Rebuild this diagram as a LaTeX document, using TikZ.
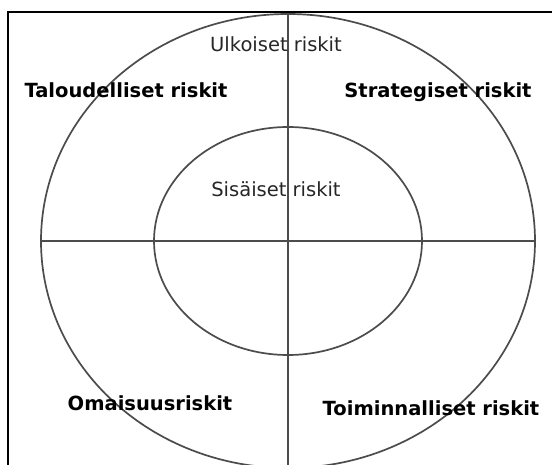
\documentclass[tikz,border=0pt]{standalone}
\usepackage{fontspec}
\setmainfont{DejaVu Sans}
\begin{document}
\begin{tikzpicture}[x=1pt,y=-1pt,
  ring/.style={draw=black!70,line width=1.7pt},
  axis/.style={draw=black!70,line width=1.5pt},
  frame/.style={draw=black,line width=2.6pt},
  plain/.style={font=\fontsize{19.5}{22}\selectfont,inner sep=0pt,anchor=base,text=black!85},
  heavy/.style={font=\fontsize{19.5}{22}\selectfont\bfseries,inner sep=0pt,anchor=base}]
\useasboundingbox (0,0) rectangle (552,465);
\fill[white] (0,0) rectangle (552,465);
% frame
\coordinate (ftl) at (8,12);
\coordinate (ftr) at (553,12);
\coordinate (fbl) at (8,466);
\draw[frame] (ftr) -- (ftl) -- (fbl);
% ellipses
\coordinate (c) at (288,241);
\draw[ring] (c) ellipse [x radius=247, y radius=227];
\draw[ring] (c) ellipse [x radius=134, y radius=114];
% axes
\coordinate (vt) at (288,13);
\coordinate (vb) at (288,466);
\coordinate (hl) at (41,241);
\coordinate (hr) at (535,241);
\draw[axis] (vt) -- (vb);
\draw[axis] (hl) -- (hr);
% labels
\node[plain] (ulk) at (276,52) {Ulkoiset riskit};
\node[plain] (sis) at (276,197) {Sisäiset riskit};
\node[heavy] (tal) at (126,98) {Taloudelliset riskit};
\node[heavy] (str) at (438,98) {Strategiset riskit};
\node[heavy] (oma) at (150,410) {Omaisuusriskit};
\node[heavy] (toi) at (431,415) {Toiminnalliset riskit};
\end{tikzpicture}
\end{document}
